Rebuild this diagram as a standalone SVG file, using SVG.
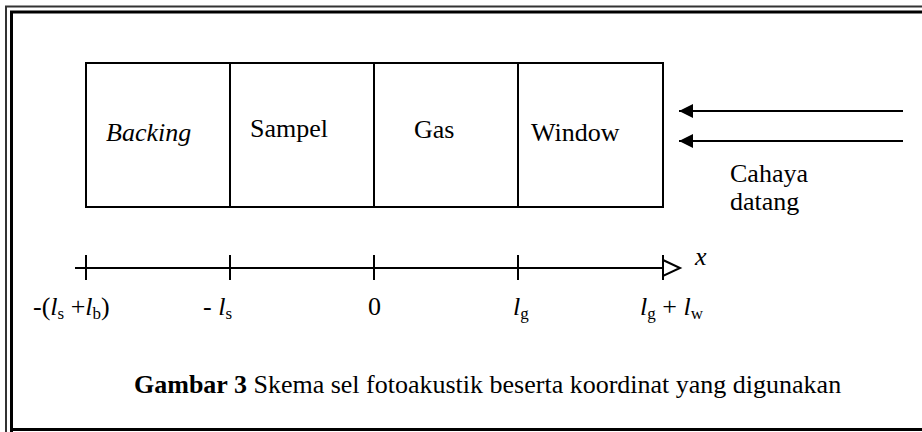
<svg xmlns="http://www.w3.org/2000/svg" width="922" height="432" viewBox="0 0 922 432">
  <style>
    text { font-family: 'Liberation Serif', 'Times New Roman', serif; fill: #000; }
    .lbl { font-size: 26px; }
    .sub { font-size: 17px; }
    .cell { fill: #fff; stroke: #000; stroke-width: 2; }
    .ln { stroke: #000; stroke-width: 2; fill: none; }
  </style>
  <defs>
    <marker id="solid" markerWidth="16" markerHeight="16" refX="15" refY="8" orient="auto" markerUnits="userSpaceOnUse">
      <path d="M1,1 L15,8 L1,15 Z" fill="#000"/>
    </marker>
  </defs>

  <rect width="922" height="432" fill="#fff"/>

  <!-- double page frame -->
  <g id="frame">
    <path d="M6,440 V6.5 H930" fill="none" stroke="#333" stroke-width="2"/>
    <path d="M11.5,440 V12 H930" fill="none" stroke="#000" stroke-width="3"/>
    <line x1="10" y1="429.5" x2="930" y2="429.5" stroke="#000" stroke-width="3"/>
  </g>

  <!-- layers of the cell -->
  <g id="backing">
    <rect class="cell" x="86" y="63" width="144" height="144"/>
    <text class="lbl" x="106" y="141" font-style="italic">Backing</text>
  </g>
  <g id="sampel">
    <rect class="cell" x="230" y="63" width="144" height="144"/>
    <text class="lbl" x="250" y="137">Sampel</text>
  </g>
  <g id="gas">
    <rect class="cell" x="374" y="63" width="144" height="144"/>
    <text class="lbl" x="414" y="138">Gas</text>
  </g>
  <g id="window">
    <rect class="cell" x="518" y="63" width="145" height="144"/>
    <text class="lbl" x="531" y="141">Window</text>
  </g>

  <!-- incoming light -->
  <g id="connectors">
    <line class="ln" x1="903" y1="111" x2="679" y2="111" marker-end="url(#solid)"/>
    <line class="ln" x1="903" y1="141" x2="679" y2="141" marker-end="url(#solid)"/>
  </g>
  <g id="cahaya">
    <text class="lbl" x="730" y="182">Cahaya</text>
    <text class="lbl" x="730" y="210">datang</text>
  </g>

  <!-- x axis -->
  <g id="axis">
    <line class="ln" x1="75" y1="268" x2="676" y2="268"/>
    <path d="M663,260 L680,268 L663,276 Z" fill="#fff" stroke="#000" stroke-width="2"/>
    <g class="ln">
      <line x1="86" y1="255" x2="86" y2="280"/>
      <line x1="230" y1="255" x2="230" y2="280"/>
      <line x1="374" y1="255" x2="374" y2="280"/>
      <line x1="518" y1="255" x2="518" y2="280"/>
      <line x1="663" y1="255" x2="663" y2="280"/>
    </g>
    <text class="lbl" x="695" y="265" font-style="italic">x</text>
  </g>

  <g id="ticks-labels">
    <text class="lbl" x="33" y="315">-(<tspan font-style="italic">l</tspan><tspan class="sub" dy="4">s</tspan><tspan dy="-4"> +</tspan><tspan font-style="italic">l</tspan><tspan class="sub" dy="4">b</tspan><tspan dy="-4">)</tspan></text>
    <text class="lbl" x="203" y="315">- <tspan font-style="italic">l</tspan><tspan class="sub" dy="4">s</tspan></text>
    <text class="lbl" x="368" y="315">0</text>
    <text class="lbl" x="513" y="315"><tspan font-style="italic">l</tspan><tspan class="sub" dy="4">g</tspan></text>
    <text class="lbl" x="640" y="315"><tspan font-style="italic">l</tspan><tspan class="sub" dy="4">g</tspan><tspan dy="-4"> + </tspan><tspan font-style="italic">l</tspan><tspan class="sub" dy="4">w</tspan></text>
  </g>

  <g id="caption">
    <text x="134" y="393" font-size="26"><tspan font-weight="bold">Gambar 3</tspan> Skema sel fotoakustik beserta koordinat yang digunakan</text>
  </g>
</svg>
